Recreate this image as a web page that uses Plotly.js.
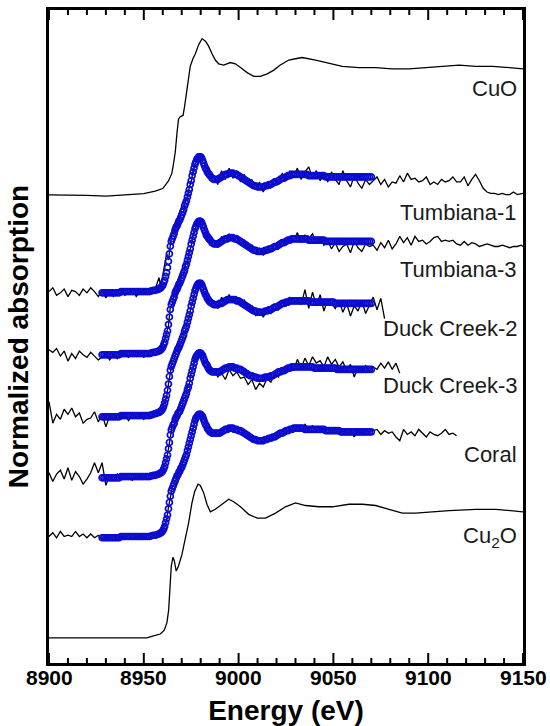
<!DOCTYPE html>
<html>
<head>
<meta charset="utf-8">
<script src="https://cdn.plot.ly/plotly-3.0.1.min.js"></script>
<style>html,body{margin:0;padding:0;background:#fff}#chart{width:550px;height:726px}</style>
</head>
<body>
<div id="chart"></div>
<script>
// ---------------- data ----------------
const sampleNames = ["Tumbiana-1", "Tumbiana-3", "Duck Creek-2", "Duck Creek-3", "Coral"];
const referenceNames = ["CuO", "Cu<sub>2</sub>O"];
const stackOffset = [2.738, 2.246, 1.754, 1.270, 0.794]; // vertical stacking of samples
const cuoOffset = 3.516;
const cu2oOffset = 0;

const xRange = [8900, 9150];
const xTickLabels = ["8900", "8950", "9000", "9050", "9100", "9150"];
const xMajorStep = 50;
const xMinorStep = 10;

// Reference spectra
const cuoEnergy = [8900,8910,8920,8930,8940,8950,8956,8960,8963,8964.8,8965.7,8966.6,8967.5,8968.3,8969.2,8970.7,8971.5,8972.8,8973.6,8974.5,8975.9,8977.2,8978.9,8980.7,8982.5,8984.2,8986,8987.7,8989.5,8992.1,8995.7,8998.3,9001,9004.5,9008,9011.5,9015.1,9018.6,9022,9026.5,9030,9033.6,9040.6,9045.9,9054.7,9063.5,9072.3,9081,9089.9,9098.7,9107.6,9116.3,9125.2,9134,9142.8,9150];
const cuoAbs = [0,0,-0.005,-0.01,0,0.01,0.03,0.05,0.11,0.17,0.25,0.34,0.49,0.60,0.62,0.63,0.70,0.83,0.94,1.02,1.08,1.12,1.19,1.24,1.22,1.18,1.12,1.07,1.04,1.03,1.05,1.04,1.01,0.97,0.94,0.94,0.96,0.99,1.03,1.07,1.08,1.09,1.07,1.05,1.02,1.01,1.01,1.00,1.00,1.01,1.02,1.03,1.02,1.02,1.01,1.00];

const cu2oEnergy = [8900,8927,8951.6,8956,8958.7,8960.8,8962.2,8963.1,8964,8964.5,8965.4,8966.1,8967.1,8968.3,8970.1,8971.9,8973.6,8975.4,8976.8,8978.6,8979.8,8981.6,8983.3,8985.1,8987.7,8991.3,8994.8,8997.4,9001,9005.3,9009.8,9014.2,9019.5,9024.7,9030,9035.3,9042.3,9049.4,9058.2,9065.3,9072.3,9079.3,9086.4,9093.4,9100.5,9111,9125.2,9135.7,9150];
const cu2oAbs = [0,0,0,0.02,0.03,0.06,0.12,0.22,0.43,0.57,0.64,0.61,0.53,0.57,0.66,0.78,0.91,1.07,1.16,1.22,1.21,1.15,1.06,1.00,1.02,1.06,1.10,1.08,1.04,0.98,0.95,0.95,0.99,1.04,1.07,1.05,1.04,1.04,1.06,1.06,1.05,1.02,0.99,0.99,1.00,1.01,1.02,1.02,1.00];

// Measured sample spectra (shared energy grid, each sample ends where its scan ends)
const dataEnergy = [8900,8902,8904,8906,8908,8910,8912,8914,8916,8918,8920,8922,8924,8926,8928,8930,8932,8934,8936,8938,8940,8942,8944,8946,8948,8950,8952,8954,8956,8958,
8959,8960,8961,8962,8963,8964,8965,8966,8967,8968,8969,8970,8971,8972,8973,8974,8975,8976,8977,8978,8979,8980,8981,8982,8983,8984,8985,
8987,8989,8991,8993,8995,8997,8999,9001,9003,9005,9007,9009,9011,9013,9015,9017,9019,9021,9023,9025,9027,9029,9031,9033,9035,9037,9039,9041,9043,9045,9047,9049,9051,9053,9055,9057,9059,9061,9063,9065,9067,9069,
9071,9073,9075,9077,9079,9081,9083,9085,9087,9089,9091,9093,9095,9097,9099,9101,9103,9105,9107,9109,9111,9113,9115,9117,9119,9121,9123,9125,9127,9129,9131,9133,9135,9137,9139,9141,9143,9145,9147,9149,9150];

const tumbiana1Data = [0.01,0.04,-0.02,0.00,0.03,-0.03,0.02,0.01,-0.02,0.03,0.00,0.04,0.01,-0.03,0.02,-0.04,0.02,-0.03,0.01,0.03,-0.02,0.00,0.03,-0.03,0.01,0.02,-0.01,0.04,0.03,0.12,
0.05,0.14,0.20,0.31,0.26,0.40,0.50,0.46,0.55,0.53,0.60,0.63,0.65,0.73,0.75,0.84,0.88,0.97,1.01,1.07,1.06,1.10,1.04,1.03,0.96,0.97,0.92,
0.93,0.86,0.97,0.90,0.99,0.91,0.97,0.88,0.94,0.85,0.90,0.82,0.88,0.80,0.87,0.83,0.91,0.86,0.95,0.89,0.97,0.92,0.99,0.90,0.96,1.00,0.91,0.97,0.89,0.95,0.88,0.96,0.90,0.86,0.97,0.89,0.84,0.93,0.87,0.83,0.90,0.86,
0.89,0.92,0.86,0.90,0.84,0.88,0.87,0.93,0.88,0.95,0.90,0.91,0.88,0.89,0.92,0.86,0.88,0.86,0.90,0.88,0.89,0.92,0.88,0.88,0.92,0.85,0.90,0.94,0.89,0.83,0.80,0.79,0.79,0.78,0.79,0.78,0.78,0.80,0.78,0.79,0.79];

const tumbiana3Data = [0.04,0.02,0.05,-0.01,0.03,-0.05,0.01,-0.03,0.03,0.00,-0.02,0.02,-0.01,-0.04,-0.02,0.01,-0.04,0.00,-0.03,0.02,0.00,-0.02,0.01,-0.01,0.02,-0.02,0.01,0.03,0.00,0.04,
0.06,0.08,0.12,0.18,0.23,0.38,0.40,0.48,0.49,0.56,0.55,0.63,0.64,0.72,0.73,0.82,0.86,0.96,0.98,1.06,1.04,1.08,1.01,1.00,0.94,0.95,0.89,
0.91,0.85,0.94,0.89,0.96,0.90,0.95,0.87,0.91,0.84,0.87,0.80,0.85,0.79,0.84,0.82,0.88,0.84,0.91,0.88,0.93,0.90,0.97,0.89,0.95,0.92,0.96,0.89,0.93,0.87,0.91,0.84,0.89,0.82,0.86,0.88,0.81,0.90,0.85,0.82,0.88,0.86,
0.87,0.83,0.89,0.85,0.91,0.84,0.88,0.94,0.89,0.93,0.87,0.94,0.90,0.91,0.88,0.90,0.93,0.94,0.90,0.91,0.90,0.91,0.88,0.87,0.90,0.87,0.89,0.88,0.86,0.87,0.88,0.87,0.86,0.86,0.87,0.86,0.85,0.86,0.86,0.87,0.86];

const duckCreek2Data = [0.12,-0.05,0.02,-0.02,0.06,0.02,0.07,0.00,0.03,-0.05,-0.02,-0.01,0.04,-0.04,0.02,-0.08,0.01,-0.02,0.02,-0.01,0.01,-0.03,0.02,0.00,0.03,-0.02,0.02,0.00,0.03,0.05,
0.05,0.07,0.12,0.15,0.26,0.34,0.44,0.45,0.52,0.53,0.58,0.60,0.66,0.69,0.76,0.79,0.88,0.92,1.00,1.02,1.07,1.03,1.05,0.97,0.98,0.91,0.93,
0.92,0.86,0.95,0.90,0.97,0.91,0.95,0.88,0.93,0.85,0.88,0.80,0.86,0.79,0.85,0.82,0.89,0.85,0.92,0.88,0.95,0.90,0.93,0.89,1.01,0.86,0.99,0.88,0.97,0.84,0.93,0.90,0.86,0.92,0.83,0.90,0.80,0.88,0.84,0.92,0.82,0.88,
0.95,0.85,0.94,0.78];

const duckCreek3Data = [0.04,-0.03,0.03,0.06,-0.01,0.08,-0.02,0.05,0.01,-0.05,-0.01,0.04,0.12,0.04,0.12,-0.06,0.02,-0.02,0.03,-0.01,0.02,0.00,-0.02,0.02,0.01,-0.01,0.03,0.01,0.04,0.05,
0.06,0.05,0.11,0.14,0.25,0.32,0.41,0.42,0.50,0.49,0.56,0.55,0.63,0.64,0.72,0.74,0.84,0.87,0.96,0.95,1.01,0.96,0.99,0.90,0.92,0.84,0.88,
0.86,0.80,0.83,0.78,0.86,0.81,0.84,0.79,0.80,0.74,0.78,0.70,0.75,0.72,0.79,0.76,0.82,0.80,0.86,0.84,0.90,0.85,0.94,0.87,0.95,0.89,0.96,0.91,0.93,0.88,0.96,0.90,0.94,0.88,0.92,0.85,0.90,0.80,0.88,0.84,0.89,0.85,
0.88,0.86,0.91,0.87,0.92,0.86,0.91,0.83];

const coralData = [0.01,0.04,0.00,0.05,0.01,0.02,0.01,0.05,0.01,0.03,0.00,0.03,0.00,0.02,-0.01,0.01,0.00,0.02,-0.01,0.01,0.00,0.02,0.00,0.01,0.02,0.00,0.02,0.01,0.03,0.04,
0.05,0.06,0.10,0.14,0.24,0.32,0.40,0.42,0.47,0.50,0.53,0.57,0.60,0.65,0.69,0.75,0.81,0.88,0.92,0.97,0.98,0.99,0.95,0.93,0.89,0.87,0.84,
0.85,0.81,0.86,0.83,0.88,0.84,0.87,0.82,0.84,0.79,0.81,0.76,0.79,0.75,0.80,0.77,0.82,0.80,0.85,0.83,0.87,0.84,0.89,0.85,0.90,0.86,0.89,0.85,0.88,0.84,0.87,0.85,0.86,0.83,0.86,0.82,0.85,0.80,0.86,0.83,0.85,0.84,
0.85,0.86,0.82,0.85,0.83,0.84,0.80,0.77,0.86,0.82,0.84,0.81,0.86,0.83,0.80,0.84,0.82,0.81,0.83,0.86,0.82,0.83,0.81];

// Linear-combination fits (shared energy grid)
const fitEnergy = [8928,8929,8930,8931,8932,8933,8934,8935,8936,8937,8938,8939,8940,8941,8942,8943,8944,8945,8946,8947,8948,8949,8950,8951,8952,8953,8954,8955,8956,8957,8958,
8958.5,8959,8959.5,8960,8960.5,8961,8961.5,8962,8962.5,8963,8963.5,8964,8964.5,8965,8965.5,8966,8966.5,8967,8967.5,8968,8968.5,8969,8969.5,8970,8970.5,8971,8971.5,8972,8972.5,8973,8973.5,8974,8974.5,8975,8975.5,8976,8976.5,8977,8977.5,8978,8978.5,8979,8979.5,8980,8980.5,8981,8981.5,8982,8982.5,8983,8983.5,8984,8984.5,8985,
8986,8987,8988,8989,8990,8991,8992,8993,8994,8995,8996,8997,8998,8999,9000,9001,9002,9003,9004,9005,9006,9007,9008,9009,9010,9011,9012,9013,9014,9015,9016,9017,9018,9019,9020,9021,9022,9023,9024,9025,9026,9027,9028,9029,9030,9031,9032,9033,9034,9035,9036,9037,9038,9039,9040,9041,9042,9043,9044,9045,9046,9047,9048,9049,9050,9051,9052,9053,9054,9055,9056,9057,9058,9059,9060,9061,9062,9063,9064,9065,9066,9067,9068,9069,9070];

const tumbiana1Fit = [0,0,0,0,0,0,0,0,0,0,0.01,0.01,0.01,0.01,0.01,0.01,0.01,0.01,0.01,0.01,0.01,0.01,0.01,0.01,0.01,0.01,0.015,0.02,0.02,0.025,0.03,
0.035,0.04,0.05,0.06,0.08,0.10,0.13,0.16,0.20,0.25,0.31,0.37,0.41,0.43,0.45,0.47,0.50,0.52,0.53,0.55,0.57,0.58,0.60,0.62,0.64,0.66,0.69,0.71,0.73,0.76,0.79,0.82,0.86,0.89,0.93,0.96,0.99,1.02,1.04,1.06,1.07,1.08,1.08,1.08,1.07,1.05,1.03,1.01,0.99,0.98,0.96,0.95,0.94,0.93,
0.91,0.90,0.90,0.90,0.91,0.92,0.93,0.94,0.94,0.95,
0.95,0.95,0.94,0.94,0.93,0.92,0.91,0.90,0.89,0.88,
0.87,0.86,0.85,0.85,0.84,0.84,0.84,0.84,0.85,0.85,
0.86,0.86,0.87,0.88,0.88,0.89,0.90,0.91,0.91,0.92,
0.93,0.93,0.94,0.94,0.94,0.94,0.94,0.94,0.94,0.94,
0.94,0.93,0.93,0.93,0.93,0.93,0.93,0.93,0.93,0.93,
0.92,0.92,0.92,0.92,0.92,0.92,0.92,0.92,0.92,0.92,
0.92,0.92,0.92,0.92,0.92,0.92,0.92,0.92,0.92,0.92,
0.92,0.92,0.92,0.92,0.92];

const tumbiana3Fit = [0,0,0,0,0,0,0,0,0,0,0.01,0.01,0.01,0.01,0.01,0.01,0.01,0.01,0.01,0.01,0.01,0.01,0.01,0.01,0.01,0.01,0.015,0.02,0.02,0.025,0.03,
0.035,0.04,0.05,0.06,0.08,0.10,0.13,0.16,0.19,0.24,0.30,0.36,0.40,0.42,0.44,0.46,0.49,0.51,0.52,0.54,0.56,0.57,0.59,0.61,0.63,0.65,0.67,0.70,0.72,0.75,0.78,0.81,0.84,0.88,0.91,0.94,0.97,1.00,1.02,1.04,1.05,1.06,1.06,1.06,1.05,1.03,1.01,0.99,0.97,0.95,0.94,0.93,0.92,0.91,
0.89,0.88,0.88,0.88,0.89,0.90,0.91,0.92,0.92,0.93,
0.93,0.93,0.92,0.92,0.91,0.90,0.89,0.88,0.87,0.86,
0.85,0.84,0.83,0.83,0.82,0.82,0.82,0.82,0.83,0.83,
0.84,0.84,0.85,0.86,0.86,0.87,0.88,0.89,0.89,0.90,
0.91,0.91,0.92,0.92,0.92,0.92,0.92,0.92,0.92,0.92,
0.92,0.91,0.91,0.91,0.91,0.91,0.91,0.91,0.91,0.91,
0.90,0.90,0.90,0.90,0.90,0.90,0.90,0.90,0.90,0.90,
0.90,0.90,0.90,0.90,0.90,0.90,0.90,0.90,0.90,0.90,
0.90,0.90,0.90,0.90,0.90];

const duckCreek2Fit = [0,0,0,0,0,0,0,0,0,0,0.01,0.01,0.01,0.01,0.01,0.01,0.01,0.01,0.01,0.01,0.01,0.01,0.01,0.01,0.01,0.01,0.015,0.02,0.025,0.03,0.035,
0.04,0.045,0.055,0.065,0.085,0.11,0.14,0.17,0.21,0.26,0.32,0.37,0.40,0.42,0.44,0.46,0.48,0.50,0.52,0.54,0.55,0.57,0.59,0.61,0.63,0.65,0.68,0.70,0.72,0.75,0.78,0.81,0.84,0.88,0.91,0.94,0.97,1.00,1.02,1.04,1.05,1.06,1.06,1.06,1.05,1.03,1.01,0.99,0.97,0.96,0.94,0.93,0.92,0.91,
0.90,0.89,0.89,0.89,0.90,0.90,0.91,0.92,0.93,0.93,
0.93,0.93,0.93,0.92,0.92,0.91,0.90,0.89,0.88,0.87,
0.86,0.85,0.84,0.84,0.83,0.83,0.83,0.83,0.84,0.84,
0.85,0.85,0.86,0.87,0.87,0.88,0.89,0.90,0.90,0.91,
0.91,0.92,0.92,0.92,0.92,0.92,0.92,0.92,0.92,0.92,
0.92,0.92,0.91,0.91,0.91,0.91,0.91,0.91,0.91,0.91,
0.91,0.91,0.91,0.91,0.91,0.90,0.90,0.90,0.90,0.90,
0.90,0.90,0.90,0.90,0.90,0.90,0.90,0.90,0.90,0.90,
0.90,0.90,0.90,0.90,0.90];

const duckCreek3Fit = [0,0,0,0,0,0,0,0,0,0,0.01,0.01,0.01,0.01,0.01,0.01,0.01,0.01,0.01,0.01,0.01,0.01,0.01,0.01,0.01,0.01,0.015,0.02,0.02,0.025,0.03,
0.035,0.04,0.045,0.055,0.07,0.09,0.12,0.15,0.18,0.23,0.28,0.34,0.38,0.40,0.42,0.43,0.46,0.48,0.49,0.51,0.52,0.53,0.55,0.57,0.59,0.61,0.63,0.65,0.67,0.70,0.72,0.75,0.79,0.82,0.85,0.88,0.91,0.94,0.96,0.97,0.98,0.99,0.99,0.99,0.98,0.97,0.95,0.93,0.91,0.90,0.89,0.87,0.86,0.85,
0.84,0.84,0.84,0.84,0.84,0.85,0.86,0.87,0.87,0.88,
0.88,0.88,0.87,0.87,0.86,0.86,0.85,0.84,0.83,0.82,
0.81,0.81,0.80,0.80,0.79,0.79,0.79,0.79,0.80,0.80,
0.80,0.81,0.81,0.82,0.83,0.84,0.84,0.85,0.85,0.86,
0.87,0.87,0.88,0.88,0.88,0.88,0.88,0.88,0.88,0.88,
0.88,0.88,0.88,0.88,0.87,0.87,0.87,0.87,0.87,0.87,
0.87,0.87,0.87,0.87,0.87,0.87,0.86,0.86,0.86,0.86,
0.86,0.86,0.86,0.86,0.86,0.86,0.86,0.86,0.86,0.86,
0.86,0.86,0.86,0.86,0.86];

const coralFit = [0,0,0,0,0,0,0,0,0,0,0.01,0.01,0.01,0.01,0.01,0.01,0.01,0.01,0.01,0.01,0.01,0.01,0.01,0.01,0.01,0.01,0.015,0.02,0.02,0.025,0.03,
0.035,0.04,0.045,0.055,0.07,0.09,0.12,0.15,0.18,0.23,0.28,0.33,0.37,0.39,0.41,0.43,0.45,0.47,0.49,0.50,0.52,0.53,0.55,0.56,0.58,0.60,0.62,0.64,0.66,0.69,0.72,0.75,0.78,0.81,0.84,0.87,0.90,0.93,0.95,0.96,0.97,0.98,0.98,0.98,0.97,0.96,0.94,0.92,0.90,0.89,0.87,0.86,0.85,0.84,
0.83,0.83,0.83,0.83,0.83,0.84,0.85,0.86,0.86,0.87,
0.87,0.87,0.86,0.86,0.85,0.85,0.84,0.83,0.82,0.81,
0.80,0.79,0.78,0.78,0.77,0.77,0.77,0.77,0.78,0.78,
0.79,0.79,0.80,0.80,0.81,0.82,0.83,0.83,0.84,0.85,
0.85,0.86,0.86,0.87,0.87,0.87,0.87,0.87,0.87,0.86,
0.86,0.86,0.86,0.86,0.86,0.86,0.86,0.86,0.86,0.86,
0.85,0.85,0.85,0.85,0.85,0.85,0.85,0.85,0.84,0.84,
0.84,0.84,0.84,0.84,0.84,0.84,0.84,0.84,0.84,0.84,
0.84,0.84,0.84,0.84,0.84];

// ---------------- traces ----------------
const sampleData = [tumbiana1Data, tumbiana3Data, duckCreek2Data, duckCreek3Data, coralData];
const sampleFits = [tumbiana1Fit, tumbiana3Fit, duckCreek2Fit, duckCreek3Fit, coralFit];

const FONT = "Liberation Sans, Arial, Helvetica, sans-serif";
const lineStyle = {color: "#000000", width: 1.3};
const fitColor = "#0c0cd0";
const traces = [];

traces.push({x: cuoEnergy, y: cuoAbs.map(v => v + cuoOffset), mode: "lines", line: lineStyle, name: "CuO", hoverinfo: "skip"});
traces.push({x: cu2oEnergy, y: cu2oAbs.map(v => v + cu2oOffset), mode: "lines", line: lineStyle, name: "Cu2O", hoverinfo: "skip"});

sampleData.forEach((vals, i) => {
  traces.push({
    x: dataEnergy.slice(0, vals.length),
    y: vals.map(v => v + stackOffset[i]),
    mode: "lines", line: lineStyle, name: sampleNames[i] + " data", hoverinfo: "skip"
  });
});
sampleFits.forEach((vals, i) => {
  traces.push({
    x: fitEnergy.slice(0, vals.length),
    y: vals.map(v => v + stackOffset[i]),
    mode: "markers",
    marker: {symbol: "circle-open", size: 6, color: fitColor, line: {width: 1.7, color: fitColor}},
    name: sampleNames[i] + " fit", hoverinfo: "skip"
  });
});

// curve labels (data y) beneath the right end of each curve
const labelY = [3.379, 2.927, 2.459, 2.006, 1.451];
const annotations = [
  {text: referenceNames[0], x: 9148, y: 4.363},
  ...sampleNames.map((n, i) => ({text: n, x: 9148, y: labelY[i]})),
  {text: referenceNames[1], x: 9148, y: 0.80}
].map(a => Object.assign(a, {xref: "x", yref: "y", xanchor: "right", yanchor: "middle", showarrow: false,
  font: {family: FONT, size: 22, color: "#1a1a1a"}}));

// energy-axis tick labels (bold), placed on the axis values
xTickLabels.forEach(t => annotations.push({
  text: "<b>" + t + "</b>", x: Number(t), xref: "x", y: 0, yref: "paper",
  xanchor: "center", yanchor: "top", yshift: -1, showarrow: false,
  font: {family: FONT, size: 21, color: "#000000", weight: "bold"}
}));

// inward tick marks on bottom and top edges, from the axis range and steps
const shapes = [];
for (let v = xRange[0]; v <= xRange[1]; v += xMinorStep) {
  const len = (v - xRange[0]) % xMajorStep === 0 ? 10 : 5;
  [[0, len], [1, -len]].forEach(([anchor, l]) => shapes.push({
    type: "line", xref: "x", yref: "paper", ysizemode: "pixel", yanchor: anchor,
    x0: v, x1: v, y0: 0, y1: l, line: {color: "#000000", width: 2}, layer: "above"
  }));
}

const layout = {
  width: 550, height: 726,
  margin: {l: 49, r: 27, t: 10, b: 63},
  paper_bgcolor: "#ffffff", plot_bgcolor: "#ffffff",
  showlegend: false,
  xaxis: {
    range: xRange, tickmode: "linear", tick0: xRange[0], dtick: xMajorStep,
    ticks: "", showticklabels: false,
    showline: true, linewidth: 3, linecolor: "#000000", mirror: true,
    showgrid: false, zeroline: false,
    title: {text: "<b>Energy (eV)</b>", font: {family: FONT, size: 28, color: "#000000"}, standoff: 36}
  },
  yaxis: {
    range: [-0.2, 4.983],
    showline: true, linewidth: 3, linecolor: "#000000", mirror: true,
    ticks: "", showticklabels: false, showgrid: false, zeroline: false,
    title: {text: "<b>Normalized absorption</b>", font: {family: FONT, size: 28, color: "#000000"}, standoff: 10}
  },
  shapes: shapes,
  annotations: annotations
};

Plotly.newPlot("chart", traces, layout, {displayModeBar: false});
</script>
</body>
</html>
